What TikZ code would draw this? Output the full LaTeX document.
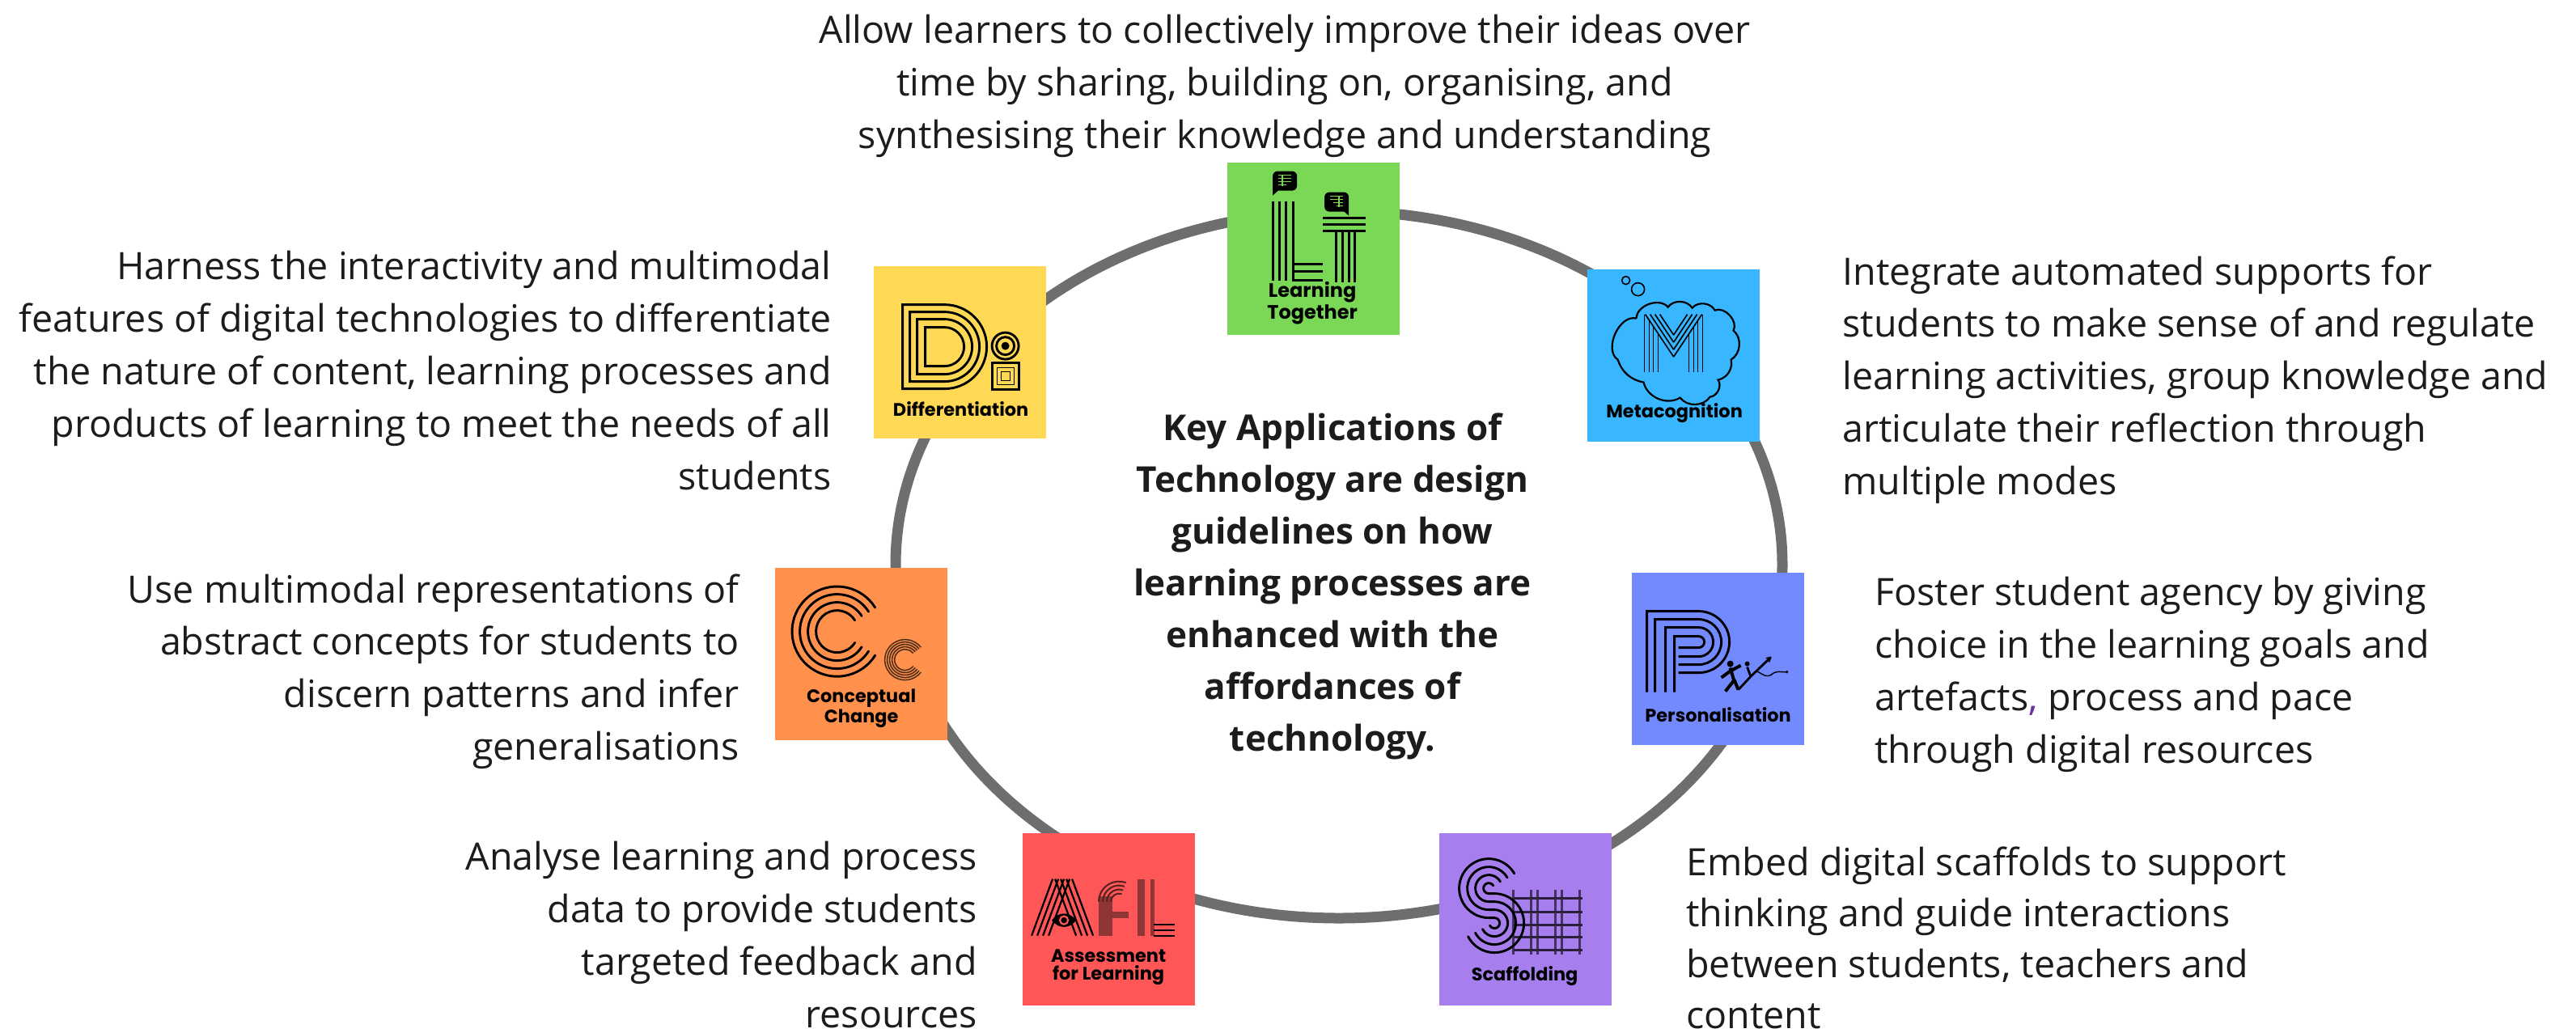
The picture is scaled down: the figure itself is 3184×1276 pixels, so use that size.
\documentclass[tikz,border=0pt]{standalone}
\usepackage{fontspec}
\setmainfont{Open Sans}
\newfontfamily\labfont{Poppins}
\definecolor{ringgrey}{HTML}{6E6E6E}
\definecolor{txt}{HTML}{1C1C1C}
\definecolor{cgreen}{HTML}{7BD857}
\definecolor{cyellow}{HTML}{FFD955}
\definecolor{cblue}{HTML}{38B6FF}
\definecolor{corange}{HTML}{FF914D}
\definecolor{cperi}{HTML}{738AFF}
\definecolor{cred}{HTML}{FF5757}
\definecolor{cviolet}{HTML}{A67EEE}
\definecolor{commac}{HTML}{7030A0}
\definecolor{redbrown}{HTML}{8E3535}
\tikzset{
  tile/.style={minimum width=106.5pt,minimum height=106.5pt,inner sep=0pt,draw=none},
  ln/.style={line width=1.45pt,black},
  thin ln/.style={line width=0.8pt,black},
  para/.style={inner sep=0pt,text=txt,font=\fontsize{23.3}{32.4}\selectfont},
  head/.style={inner sep=0pt,text=txt,font=\fontsize{22}{32}\selectfont\bfseries,align=center},
  lab/.style={inner sep=0pt,text=black,font=\labfont\bfseries\fontsize{11.2}{11}\selectfont,align=center},
}
\begin{document}
\begin{tikzpicture}[x=0.5pt,y=-0.5pt]
\useasboundingbox (0,0) rectangle (3184,1276);
\fill[white] (0,0) rectangle (3184,1276);
% ring
\draw[ringgrey,line width=6.5pt] (1655,698) ellipse [x radius=548,y radius=437];
% tiles
\node[tile,fill=cgreen] (lt) at (1623,307.5) {};
\node[tile,fill=cyellow] (di) at (1186.5,435.5) {};
\node[tile,fill=cblue] (me) at (2068.5,439.5) {};
\node[tile,fill=corange] (cc) at (1064.5,808.5) {};
\node[tile,fill=cperi] (pe) at (2123.5,814.5) {};
\node[tile,fill=cred] (af) at (1370,1136.5) {};
\node[tile,fill=cviolet] (sc) at (1885.5,1136.5) {};
% Learning Together
\begin{scope}[shift={(lt.north west)}]
  \foreach \x in {57,65,73} \draw[ln] (\x,48) -- (\x,146);
  \draw[ln] (82,48) -- (82,146) -- (119,146);
  \draw[ln] (82,126) -- (119,126) (82,135) -- (119,135);
  \foreach \y in {69,77,85} \draw[ln] (119,\y) -- (172,\y);
  \foreach \x in {135,143,151,158} \draw[ln] (\x,85) -- (\x,148);
  \fill[black,rounded corners=3pt] (57,11) rectangle (87,35);
  \fill[black] (57,30) -- (57,41) -- (66,33) -- cycle;
  \fill[black,rounded corners=3pt] (121,37) rectangle (151,61);
  \fill[black] (151,55) -- (151,66) -- (142,58) -- cycle;
  \draw[cgreen,line width=0.7pt] (64,16) -- (80,16) (64,20) -- (80,20) (64,24) -- (80,24) (64,28) -- (74,28) (69,15) -- (69,29);
  \draw[cgreen,line width=0.7pt] (128,42) -- (144,42) (128,46) -- (144,46) (132,50) -- (144,50) (136,54) -- (144,54) (139,41) -- (139,55);
  \node[lab,font=\labfont\bfseries\fontsize{12}{10}\selectfont] (ltl) at (106,174) {Learning\\Together};
\end{scope}
% Differentiation
\begin{scope}[shift={(di.north west)}]
  \foreach \i in {0,9,18,28} {
    \draw[ln] (36+\i,48+\i) -- (88,48+\i) arc[start angle=-90,end angle=90,radius=52-\i] -- (36+\i,152-\i) -- cycle;
  }
  \draw[ln] (163,99) circle[radius=16.5];
  \draw[ln] (163,99) circle[radius=11];
  \fill[black] (163,99) circle[radius=5];
  \draw[ln] (147,120) rectangle (180,153);
  \draw[thin ln] (153,126) rectangle (174,147);
  \draw[thin ln] (158,131) rectangle (169,142);
  \node[lab] (dil) at (108,177) {Differentiation};
\end{scope}
% Metacognition
\begin{scope}[shift={(me.north west)}]
  \draw[thin ln] (48,14) circle[radius=5];
  \draw[thin ln] (63,25) circle[radius=8];
  \draw[line width=1.1pt,black] (61,61) to[bend left=70] (100,47) to[bend left=55] (130,48) to[bend left=55] (158,51) to[bend left=70] (181,76) to[bend left=55] (178,112) to[bend left=45] (162,137) to[bend left=60] (152,158) to[bend left=55] (115,159) to[bend left=55] (70,140) to[bend left=30] (38,112) to[bend left=80] (61,61);
  \foreach \x/\s in {71/56,77/63,82/71,88/80} \draw[thin ln] (\x,\s) -- (\x,127);
  \foreach \x/\s in {143/56,137/63,132/71,126/80} \draw[thin ln] (\x,\s) -- (\x,127);
  \foreach \i in {0,1,2,3} {
    \draw[thin ln] (72+6*\i,56) -- (107,{56+(35-6*\i)*1.5});
    \draw[thin ln] (142-6*\i,56) -- (107,{56+(35-6*\i)*1.5});
  }
  \node[lab] (mel) at (108,178) {Metacognition};
\end{scope}
% Conceptual Change
\begin{scope}[shift={(cc.north west)}]
  \foreach \r in {55.6,46,36,26} {
    \draw[ln,line cap=round] (77,79) ++(-32:\r) arc[start angle=-32,end angle=-328,radius=\r];
  }
  \foreach \r in {25,22,19,16,13} {
    \draw[thin ln,line width=.75pt,black!70!corange] (161,114) ++(-38:\r) arc[start angle=-38,end angle=-322,radius=\r];
  }
  \node[lab] (ccl) at (107,174) {Conceptual\\Change};
\end{scope}
% Personalisation
\begin{scope}[shift={(pe.north west)}]
  \foreach \v/\r in {19/38,29/28,42/18,53/7} {
    \draw[ln] (\v,148) -- (\v,86-\r) -- (83,86-\r) arc[start angle=-90,end angle=90,radius=\r] -- (58,86+\r);
  }
  \fill[black] (122,113) circle[radius=4];
  \fill[black] (143,113) circle[radius=3];
  \draw[ln,line width=2pt] (122,118) -- (127,135) (111,130) -- (122,122) -- (135,115) (127,133) -- (116,147) (127,133) -- (132,145);
  \draw[ln,line width=1.4pt] (143,117) -- (147,128) (132,145) -- (148,128) -- (172,105);
  \draw[thin ln,line width=.7pt] (166,106) -- (172,105) -- (170,111);
  \draw[thin ln,line width=.7pt] (150,126) .. controls (156,116) and (162,132) .. (172,127) .. controls (180,120) and (184,124) .. (192,123);
  \fill[black] (192,123) circle[radius=1.8];
  \node[lab] (pel) at (107,176) {Personalisation};
\end{scope}
% Assessment for Learning
\begin{scope}[shift={(af.north west)}]
  \foreach \i in {0,1,2,3} {
    \draw[ln,line width=1.1pt] (12+7*\i,127) -- (38+7*\i,57);
    \draw[ln,line width=1.1pt] (88-7*\i,127) -- (62-7*\i,57);
  }
  \fill[black] (37,108) .. controls (45,97) and (59,97) .. (67,108) .. controls (59,119) and (45,119) .. (37,108) -- cycle;
  \draw[cred,line width=1.1pt] (52,108) circle[radius=5];
  \fill[redbrown] (95,78) rectangle (112,127);
  \fill[redbrown] (112,97) rectangle (132,105);
  \foreach \r in {25,20,15,10} {
    \draw[ln,line width=1pt,redbrown!60!black] (120,85) ++(180:\r) arc[start angle=180,end angle=290,radius=\r];
  }
  \fill[redbrown] (143,57) rectangle (152,127);
  \fill[redbrown] (159,57) rectangle (164,127);
  \draw[ln,line width=1.1pt] (163,113) -- (189,113) (163,120) -- (189,120) (163,127) -- (189,127);
  \node[lab] (afl) at (107,166) {Assessment\\for Learning};
\end{scope}
% Scaffolding
\begin{scope}[shift={(sc.north west)}]
  \foreach \x in {92,114,122,144,152,174} \draw[line width=1.2pt,black!60!cviolet] (\x,70) -- (\x,150);
  \foreach \y in {81,98,114,129,145} \draw[line width=1.2pt,black!75!cviolet] (92,\y) -- (177,\y);
  \foreach \i in {0,1,2,3} {
    \draw[ln,line cap=round] (61.5,68.5) ++(-30:36.5-10*\i) arc[start angle=-30,end angle=-270,radius=36.5-10*\i] -- (68.5,111.5-6.5-10*\i) arc[start angle=-90,end angle=153,radius=6.5+10*\i];
  }
  \node[lab] (scl) at (106,177) {Scaffolding};
\end{scope}
% texts
\node[para,align=center,anchor=north] (t1) at (1588,18) {Allow learners to collectively improve their ideas over\\time by sharing, building on, organising, and\\synthesising their knowledge and understanding};
\node[para,align=right,anchor=north east] (t2) at (1028,310) {Harness the interactivity and multimodal\\features of digital technologies to differentiate\\the nature of content, learning processes and\\products of learning to meet the needs of all\\students};
\node[para,align=left,anchor=north west] (t3) at (2277,316) {Integrate automated supports for\\students to make sense of and regulate\\learning activities, group knowledge and\\articulate their reflection through\\multiple modes};
\node[para,align=right,anchor=north east] (t4) at (914,709) {Use multimodal representations of\\abstract concepts for students to\\discern patterns and infer\\generalisations};
\node[para,align=left,anchor=north west] (t5) at (2317,713) {Foster student agency by giving\\choice in the learning goals and\\artefacts{\color{commac},} process and pace\\through digital resources};
\node[para,align=right,anchor=north east] (t6) at (1208,1040) {Analyse learning and process\\data to provide students\\targeted feedback and\\resources};
\node[para,align=left,anchor=north west,font=\fontsize{23.3}{31.6}\selectfont] (t7) at (2084,1046) {Embed digital scaffolds to support\\thinking and guide interactions\\between students, teachers and\\content};
\node[head,anchor=north] (hd) at (1647,510) {Key Applications of\\Technology are design\\guidelines on how\\learning processes are\\enhanced with the\\affordances of\\technology.};
\end{tikzpicture}
\end{document}
